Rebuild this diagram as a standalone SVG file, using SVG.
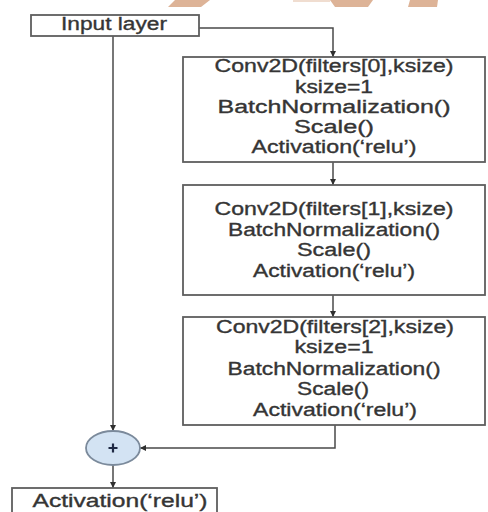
<svg xmlns="http://www.w3.org/2000/svg" width="488" height="512" viewBox="0 0 488 512">
  <style>
    .box { fill: #ffffff; stroke: #5e5e5e; stroke-width: 1.8; }
    .lbl { font-family: "Liberation Sans", Arial, sans-serif; font-size: 18px; fill: #353535; stroke: #353535; stroke-width: 0.35; text-anchor: middle; }
    .wire { fill: none; stroke: #4a4a4a; stroke-width: 1.5; }
    .mark { fill: #ddb397; }
  </style>
  <defs>
    <marker id="arrow" viewBox="0 0 10 10" refX="10" refY="5" markerWidth="6" markerHeight="6" markerUnits="userSpaceOnUse" orient="auto">
      <path d="M0,0 L10,5 L0,10 z" fill="#2f2f2f"/>
    </marker>
  </defs>

  <rect width="488" height="512" fill="#ffffff"/>

  <!-- decorative tan strokes along the top edge -->
  <g id="banner">
    <polygon class="mark" points="175,0 210,0 201,7 168,7"/>
    <polygon class="mark" points="293,0 330,0 330,2 293,2" opacity="0.45"/>
    <polygon class="mark" points="330,0 373,0 368,7 335,7"/>
    <polygon class="mark" points="410,0 438,0 437,7 408,7"/>
  </g>

  <!-- connectors -->
  <g id="connectors">
    <polyline class="wire" points="199,28 333,28 333,57" marker-end="url(#arrow)"/>
    <line class="wire" x1="333" y1="162" x2="333" y2="185" marker-end="url(#arrow)"/>
    <line class="wire" x1="333" y1="295" x2="333" y2="317" marker-end="url(#arrow)"/>
    <line class="wire" x1="113" y1="36" x2="113" y2="431" marker-end="url(#arrow)"/>
    <polyline class="wire" points="335,425 335,448 140,448" marker-end="url(#arrow)"/>
    <line class="wire" x1="113" y1="465" x2="113" y2="488" marker-end="url(#arrow)"/>
  </g>

  <g id="input">
    <rect class="box" x="31" y="15" width="168" height="21"/>
    <text class="lbl" x="114" y="30" textLength="106" lengthAdjust="spacingAndGlyphs">Input layer</text>
  </g>

  <g id="block0">
    <rect class="box" x="183" y="57" width="302" height="105"/>
    <text class="lbl" x="334" y="72" textLength="239" lengthAdjust="spacingAndGlyphs">Conv2D(filters[0],ksize)</text>
    <text class="lbl" x="334" y="92.5" textLength="78" lengthAdjust="spacingAndGlyphs">ksize=1</text>
    <text class="lbl" x="334" y="113" textLength="233" lengthAdjust="spacingAndGlyphs">BatchNormalization()</text>
    <text class="lbl" x="334" y="133" textLength="80" lengthAdjust="spacingAndGlyphs">Scale()</text>
    <text class="lbl" x="334" y="153" textLength="165" lengthAdjust="spacingAndGlyphs">Activation(‘relu’)</text>
  </g>

  <g id="block1">
    <rect class="box" x="183" y="185" width="302" height="110"/>
    <text class="lbl" x="334" y="215" textLength="239" lengthAdjust="spacingAndGlyphs">Conv2D(filters[1],ksize)</text>
    <text class="lbl" x="334" y="235.5" textLength="212" lengthAdjust="spacingAndGlyphs">BatchNormalization()</text>
    <text class="lbl" x="334" y="256" textLength="74" lengthAdjust="spacingAndGlyphs">Scale()</text>
    <text class="lbl" x="334" y="276.5" textLength="162" lengthAdjust="spacingAndGlyphs">Activation(‘relu’)</text>
  </g>

  <g id="block2">
    <rect class="box" x="183" y="317" width="302" height="108"/>
    <text class="lbl" x="335" y="333" textLength="238" lengthAdjust="spacingAndGlyphs">Conv2D(filters[2],ksize)</text>
    <text class="lbl" x="334" y="353" textLength="79" lengthAdjust="spacingAndGlyphs">ksize=1</text>
    <text class="lbl" x="334" y="375" textLength="213" lengthAdjust="spacingAndGlyphs">BatchNormalization()</text>
    <text class="lbl" x="333" y="395" textLength="72" lengthAdjust="spacingAndGlyphs">Scale()</text>
    <text class="lbl" x="335" y="416" textLength="164" lengthAdjust="spacingAndGlyphs">Activation(‘relu’)</text>
  </g>

  <g id="add">
    <ellipse cx="113" cy="448" rx="27" ry="17" fill="#d3e3f3" stroke="#7b8a9b" stroke-width="1.8"/>
    <path d="M108.5,448 H117.5 M113,443.5 V452.5" stroke="#1f2a44" stroke-width="2.2"/>
  </g>

  <g id="output">
    <rect class="box" x="12" y="488" width="205" height="30"/>
    <text class="lbl" x="120" y="507" textLength="175" lengthAdjust="spacingAndGlyphs">Activation(‘relu’)</text>
  </g>
</svg>
